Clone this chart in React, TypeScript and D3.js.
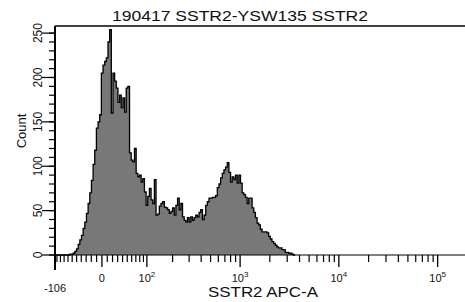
import { useMemo } from 'react'
import * as d3 from 'd3'

const TITLE = '190417 SSTR2-YSW135 SSTR2'
const X_LABEL = 'SSTR2 APC-A'
const Y_LABEL = 'Count'

// biexponential display: from the most negative value to the top of the 18-bit range
const X_MIN = -106
const X_MAX = 262144
const N_CHANNELS = 256
const Y_MAX = 258

// counts per display channel, starting at channel 0
const COUNTS = [
  0, 0, 0, 0, 0, 0, 0, 0, 0, 1,
  1, 2, 4, 7, 12, 17, 22, 30, 37, 47,
  58, 70, 84, 102, 118, 143, 150, 158, 205, 214,
  218, 222, 240, 254, 160, 205, 196, 188, 172, 180,
  166, 177, 161, 188, 190, 115, 107, 105, 120, 92,
  88, 90, 82, 86, 71, 56, 66, 75, 62, 58,
  85, 45, 46, 55, 58, 60, 54, 53, 51, 47,
  49, 53, 45, 56, 64, 51, 58, 43, 39, 37,
  42, 37, 43, 39, 42, 45, 43, 48, 51, 40,
  45, 56, 60, 64, 64, 65, 65, 67, 76, 80,
  87, 92, 96, 99, 104, 93, 82, 88, 85, 90,
  81, 90, 81, 70, 68, 65, 58, 64, 64, 53,
  48, 42, 36, 34, 29, 26, 26, 26, 25, 21,
  18, 15, 13, 11, 9, 8, 8, 6, 6, 3,
  3, 2, 2, 1, 0,
]

const Y_TICKS = [0, 50, 100, 150, 200, 250]
const Y_MINOR = d3.range(0, 251, 10)
const X_DECADES = [2, 3, 4, 5]
const X_MAJOR = [0, 100, 1000, 10000, 100000]
const X_MINOR = [
  ...d3.range(-100, 0, 10),
  ...d3.range(10, 100, 10),
  ...d3.range(200, 1000, 100),
  ...d3.range(2000, 10000, 1000),
  ...d3.range(20000, 100000, 10000),
  200000,
]

const FONT = '"Liberation Sans", Arial, sans-serif'
const W = 465
const H = 302
const LEFT = 55
const RIGHT = 479 // top of range sits just past the image edge
const TOP = 26
const BOTTOM = 255

const biex = (v: number) => Math.asinh(v / 80)

export default function App() {
  const { x, y, chX, areaPath, linePath } = useMemo(() => {
    const x = d3.scaleLinear().domain([biex(X_MIN), biex(X_MAX)]).range([LEFT, RIGHT])
    const y = d3.scaleLinear().domain([0, Y_MAX]).range([BOTTOM, TOP])
    const [t0, t1] = x.domain()
    const chX = (c: number) => x(t0 + (c * (t1 - t0)) / N_CHANNELS)

    const pts = COUNTS.map((n, c) => ({ c, n }))
    pts.push({ c: COUNTS.length, n: 0 })

    const area = d3.area<{ c: number; n: number }>()
      .x(d => chX(d.c))
      .y0(BOTTOM)
      .y1(d => y(d.n))
      .curve(d3.curveStepAfter)
    const line = d3.line<{ c: number; n: number }>()
      .x(d => chX(d.c))
      .y(d => y(d.n))
      .curve(d3.curveStepAfter)

    return { x, y, chX, areaPath: area(pts), linePath: line(pts) }
  }, [])

  const xp = (v: number) => x(biex(v))

  return (
    <svg
      width={W}
      height={H}
      style={{ position: 'absolute', left: 0, top: 0, background: '#fff' }}
      fontFamily={FONT}
    >
      {/* histogram */}
      <path d={areaPath ?? ''} fill="#787878" />
      <path d={linePath ?? ''} fill="none" stroke="#000" strokeWidth={1.3} />

      {/* frame */}
      <line x1={LEFT} x2={W} y1={TOP} y2={TOP} stroke="#000" strokeWidth={1.5} />
      <line x1={LEFT} x2={W} y1={BOTTOM} y2={BOTTOM} stroke="#000" strokeWidth={1.2} />
      <line x1={LEFT} x2={LEFT} y1={TOP} y2={BOTTOM + 15} stroke="#000" strokeWidth={2} />

      {/* y ticks */}
      {Y_MINOR.map(v => (
        <line key={'ym' + v} x1={LEFT - 6} x2={LEFT} y1={y(v)} y2={y(v)} stroke="#000" strokeWidth={1.2} />
      ))}
      {Y_TICKS.map(v => (
        <g key={'y' + v}>
          <line x1={LEFT - 13} x2={LEFT} y1={y(v)} y2={y(v)} stroke="#000" strokeWidth={1.2} />
          <text
            transform={`translate(42,${y(v)}) rotate(-90)`}
            textAnchor="middle"
            fontSize={12}
            fill="#111"
          >
            {v}
          </text>
        </g>
      ))}
      <text transform="translate(26,131) rotate(-90)" textAnchor="middle" fontSize={13} fill="#111">
        {Y_LABEL}
      </text>

      {/* x ticks */}
      {X_MINOR.map(v => (
        <line key={'xm' + v} x1={xp(v)} x2={xp(v)} y1={BOTTOM} y2={BOTTOM + 7} stroke="#000" strokeWidth={1.2} />
      ))}
      {X_MAJOR.map(v => (
        <line key={'xM' + v} x1={xp(v)} x2={xp(v)} y1={BOTTOM} y2={BOTTOM + 12} stroke="#000" strokeWidth={1.3} />
      ))}
      <text x={xp(X_MIN)} y={292} textAnchor="middle" fontSize={11} fill="#111">-106</text>
      <text x={xp(0)} y={282} textAnchor="middle" fontSize={11} fill="#111">0</text>
      {X_DECADES.map(d => (
        <text key={'xd' + d} x={xp(10 ** d)} y={282} textAnchor="middle" fontSize={11} fill="#111">
          10
          <tspan dy={-5} fontSize={8}>{d}</tspan>
        </text>
      ))}

      {/* titles */}
      <text x={240} y={20.5} textAnchor="middle" fontSize={14.5} fill="#111" textLength={256} lengthAdjust="spacingAndGlyphs">
        {TITLE}
      </text>
      <text x={263} y={297} textAnchor="middle" fontSize={14.5} fill="#111" textLength={110} lengthAdjust="spacingAndGlyphs">
        {X_LABEL}
      </text>
    </svg>
  )
}
